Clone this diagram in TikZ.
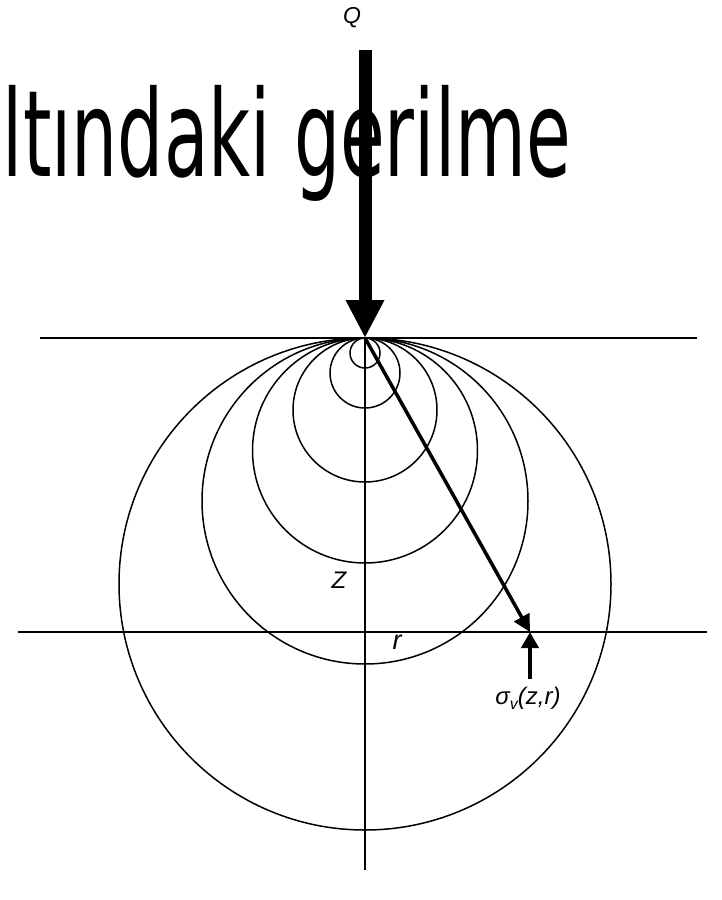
\documentclass[tikz,border=0pt]{standalone}
\usepackage{fontspec}
\setmainfont{Liberation Sans}
\newfontfamily\titlefont{DejaVu Sans}
\usetikzlibrary{arrows.meta}
\begin{document}
\begin{tikzpicture}[x=1pt,y=-1pt,
  thinline/.style={line width=1.6pt},
  lbl/.style={font=\fontsize{24}{28}\selectfont\itshape, inner sep=0pt, anchor=base},
  bulb/.style={line width=1.5pt}]
\useasboundingbox (0,0) rectangle (721,900);
% title (as visible in the reference)
\node[inner sep=0pt, anchor=base east] (title) at (571,176)
  {\scalebox{0.606}[1]{\titlefont\fontsize{120}{140}\selectfont ltındaki gerilme}};
% key points
\coordinate (O) at (365,338);
\coordinate (qt) at (365,50);
\coordinate (sl) at (40,338);
\coordinate (sr) at (697,338);
\coordinate (dl) at (18,632);
\coordinate (dr) at (707,632);
\coordinate (axbot) at (365,870);
\coordinate (P) at (530,632);
\coordinate (pb) at (530,679);
% stress bulbs
\foreach \r in {15,35,72,112.5,163,246}
  \draw[bulb] (365,338+\r) circle[radius=\r];
% lines
\draw[thinline] (sl) -- (sr);
\draw[thinline] (dl) -- (dr);
\draw[thinline] (O) -- (axbot);
% load arrow
\draw[line width=13pt, -{Triangle[width=36pt,length=38pt]}] (qt) -- (O);
% slant arrow
\draw[line width=3.5pt, -{Triangle[width=17pt,length=17pt]}] (O) -- (P);
% stress arrow
\draw[line width=4pt, -{Triangle[width=17pt,length=16pt]}] (pb) -- (P);
% labels
\node[lbl, font=\fontsize{23}{26}\selectfont\itshape] (Q) at (352,23) {Q};
\node[lbl] (Z) at (339,588) {Z};
\node[lbl, font=\fontsize{27}{30}\selectfont\itshape] (r) at (397,649) {r};
\node[lbl] (sig) at (528,704) {σ\raisebox{-0.22em}{\fontsize{16}{16}\selectfont v}(z,r)};
\end{tikzpicture}
\end{document}
